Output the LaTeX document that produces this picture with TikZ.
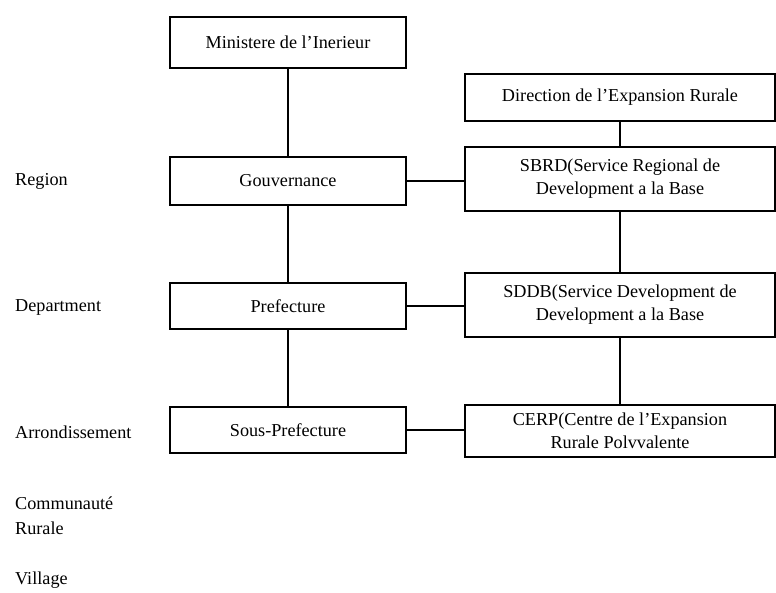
\documentclass[tikz,border=0pt]{standalone}
\usepackage{fontspec}
\setmainfont{Liberation Serif}
\begin{document}
\begin{tikzpicture}[x=1pt,y=-1pt,
  box/.style={draw, line width=1.3pt, align=center, inner sep=0pt,
    font=\fontsize{18.2}{23}\selectfont},
  lbox/.style={box, minimum width=236pt},
  rbox/.style={box, minimum width=310pt},
  lbl/.style={anchor=west, inner sep=0pt, align=left,
    font=\fontsize{18.2}{25}\selectfont},
  conn/.style={line width=1.2pt}]
\useasboundingbox (0,0) rectangle (776,592);
% left column
\node[lbox, minimum height=51pt] (min)  at (288,42.5) {Ministere de l’Inerieur};
\node[lbox, minimum height=48pt] (gouv) at (288,181) {Gouvernance};
\node[lbox, minimum height=46pt] (pref) at (288,306) {Prefecture};
\node[lbox, minimum height=46pt] (sous) at (288,430) {Sous-Prefecture};
% right column
\node[rbox, minimum height=47pt] (dir)  at (620,97.5) {Direction de l’Expansion Rurale};
\node[rbox, minimum height=64pt] (sbrd) at (620,179) {SBRD(Service Regional de\\Development a la Base};
\node[rbox, minimum height=64pt] (sddb) at (620,305) {SDDB(Service Development de\\Development a la Base};
\node[rbox, minimum height=52pt] (cerp) at (620,431) {CERP(Centre de l’Expansion\\Rurale Polvvalente};
% level labels
\node[lbl] (l1) at (15,181) {Region};
\node[lbl] (l2) at (15,307) {Department};
\node[lbl] (l3) at (15,432) {Arrondissement};
\node[lbl] (l4) at (15,515.5) {Communauté\\Rurale};
\node[lbl] (l5) at (15,580) {Village};
% connectors
\draw[conn] (min) -- (gouv);
\draw[conn] (gouv) -- (pref);
\draw[conn] (pref) -- (sous);
\draw[conn] (dir) -- (sbrd);
\draw[conn] (sbrd) -- (sddb);
\draw[conn] (sddb) -- (cerp);
\draw[conn] (gouv.east) -- (gouv.east -| sbrd.west);
\draw[conn] (pref.east) -- (pref.east -| sddb.west);
\draw[conn] (sous.east) -- (sous.east -| cerp.west);
\end{tikzpicture}
\end{document}
